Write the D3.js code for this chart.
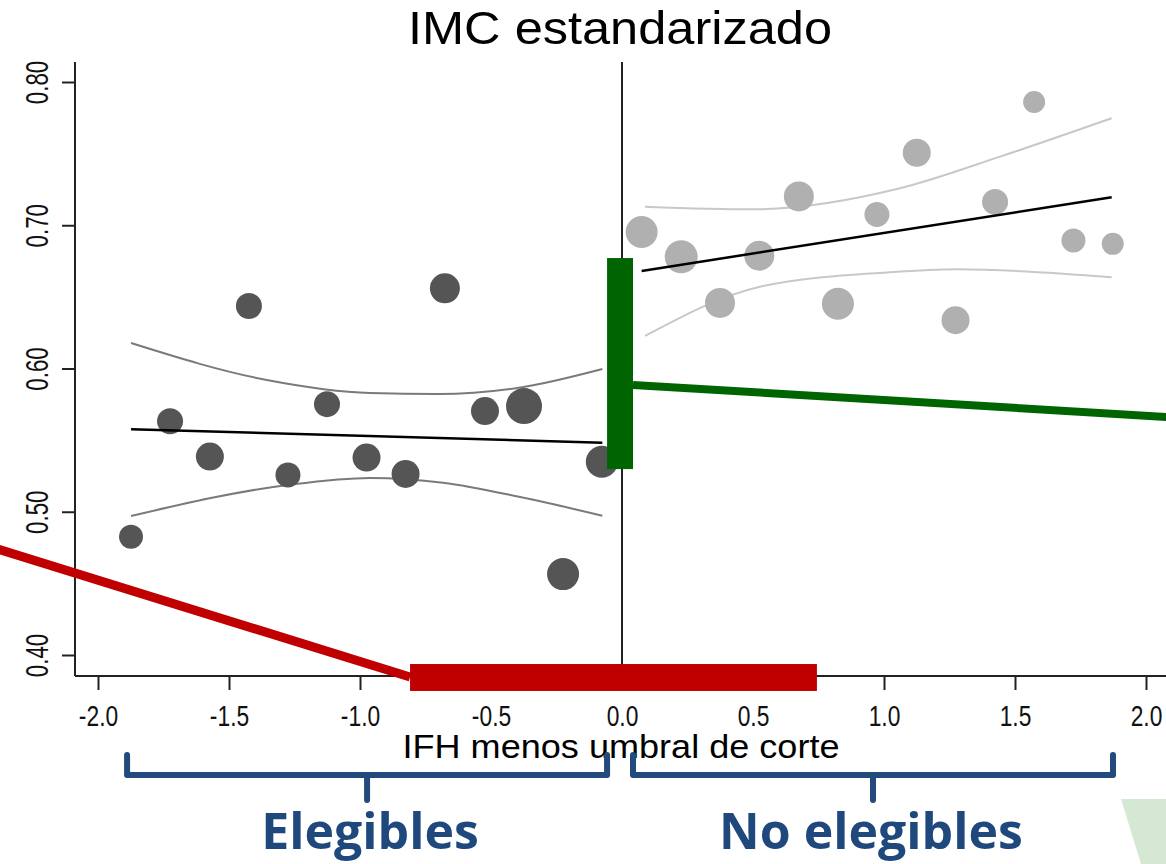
<!DOCTYPE html>
<html>
<head>
<meta charset="utf-8">
<script src="https://cdn.jsdelivr.net/npm/d3@7"></script>
<style>
  body { margin: 0; background: #fff; }
  svg { display: block; font-family: 'Liberation Sans', Arial, sans-serif; }
</style>
</head>
<body>
<div id="chart"></div>
<script>
// left of cutoff (eligible) bins
const leftX = [-1.874, -1.725, -1.573, -1.424, -1.275, -1.126, -0.975, -0.826, -0.676, -0.523, -0.374, -0.225, -0.077]
const leftY = [0.4826, 0.5632, 0.5385, 0.6436, 0.5257, 0.5751, 0.5378, 0.5264, 0.6560, 0.5703, 0.5738, 0.4565, 0.5349]
const leftR = [12, 13, 14, 13, 12.5, 13, 14, 14, 15, 14, 18, 16, 16]

// right of cutoff (not eligible) bins
const rightX = [0.075, 0.226, 0.374, 0.524, 0.675, 0.824, 0.973, 1.125, 1.273, 1.424, 1.573, 1.723, 1.873]
const rightY = [0.6953, 0.6780, 0.6458, 0.6787, 0.7201, 0.6452, 0.7075, 0.7506, 0.6337, 0.7163, 0.7860, 0.6893, 0.6870]
const rightR = [16, 16.5, 15, 15, 15, 16, 12.5, 14, 14, 13, 11, 12, 11]

// fitted lines and confidence bands
const leftFit = [[-1.874, 0.5576], [-0.075, 0.5482]]
const leftUpper = [[-1.874, 0.6178], [-1.356, 0.5920], [-0.962, 0.5829], [-0.70, 0.5822], [-0.40, 0.5864], [-0.075, 0.5997]]
const leftLower = [[-1.874, 0.4970], [-1.275, 0.5187], [-0.962, 0.5236], [-0.683, 0.5203], [-0.389, 0.5103], [-0.075, 0.4972]]
const rightFit = [[0.075, 0.6681], [1.869, 0.7195]]
const rightUpper = [[0.088, 0.7130], [0.50, 0.7111], [1.061, 0.7258], [1.443, 0.7479], [1.869, 0.7747]]
const rightLower = [[0.088, 0.6227], [0.527, 0.6571], [1.023, 0.6672], [1.277, 0.6693], [1.869, 0.6637]]

const xTicks = [-2.0, -1.5, -1.0, -0.5, 0.0, 0.5, 1.0, 1.5, 2.0]
const yTicks = [0.40, 0.50, 0.60, 0.70, 0.80]

// slide annotations (data units)
const greenBar = { x0: -0.057, x1: 0.042, y0: 0.5298, y1: 0.6771 }
const greenLine = [[0.042, 0.5885], [2.08, 0.5661]]
const redBar = { x0: -0.809, x1: 0.744, y0: 0.3749, y1: 0.3937 }
const redLine = [[-2.40, 0.4750], [-0.809, 0.3846]]
const groups = [
  { label: 'Elegibles', x0: -1.889, x1: -0.057 },
  { label: 'No elegibles', x0: 0.042, x1: 1.874 },
]

const WIDTH = 1166
const HEIGHT = 864
const AXIS_LEFT = 75
const AXIS_BOTTOM = 676
const PLOT_TOP = 62

const svg = d3.select('#chart').append('svg').attr('width', WIDTH).attr('height', HEIGHT)

const x = d3.scaleLinear().domain([-2, 2]).range([98, 1146])
const y = d3.scaleLinear().domain([0.4, 0.8]).range([655, 82])

const line = d3.line().x(d => x(d[0])).y(d => y(d[1]))
const curve = d3.line().x(d => x(d[0])).y(d => y(d[1])).curve(d3.curveMonotoneX)

// title
svg.append('text')
  .attr('x', 620).attr('y', 44)
  .attr('text-anchor', 'middle')
  .attr('textLength', 424)
  .attr('lengthAdjust', 'spacingAndGlyphs')
  .style('font-size', '46px')
  .text('IMC estandarizado')

// axes
const yAxis = svg.append('g')
  .attr('transform', `translate(${AXIS_LEFT},0)`)
  .call(d3.axisLeft(y).tickValues(yTicks).tickSize(13).tickFormat(d => d.toFixed(2)))
yAxis.select('.domain').remove()
yAxis.selectAll('line').attr('stroke', '#222').attr('stroke-width', 2)
yAxis.selectAll('text')
  .attr('transform', 'rotate(-90) scale(0.72,1)')
  .attr('x', 0).attr('y', -27).attr('dy', 0)
  .attr('text-anchor', 'middle')
  .attr('fill', '#111')
  .style('font-size', '31px')

const xAxis = svg.append('g')
  .attr('transform', `translate(0,${AXIS_BOTTOM})`)
  .call(d3.axisBottom(x).tickValues(xTicks).tickSize(14).tickPadding(15).tickFormat(d => d.toFixed(1)))
xAxis.select('.domain').remove()
xAxis.selectAll('line').attr('stroke', '#222').attr('stroke-width', 2)
xAxis.selectAll('text')
  .attr('transform', 'scale(0.76,1)')
  .attr('fill', '#111')
  .style('font-size', '30px')

svg.append('line')
  .attr('x1', AXIS_LEFT).attr('x2', AXIS_LEFT)
  .attr('y1', PLOT_TOP).attr('y2', AXIS_BOTTOM)
  .attr('stroke', '#222').attr('stroke-width', 2)
svg.append('line')
  .attr('x1', AXIS_LEFT).attr('x2', WIDTH)
  .attr('y1', AXIS_BOTTOM).attr('y2', AXIS_BOTTOM)
  .attr('stroke', '#222').attr('stroke-width', 2)

// cutoff line
svg.append('line')
  .attr('x1', x(0)).attr('x2', x(0))
  .attr('y1', PLOT_TOP).attr('y2', AXIS_BOTTOM)
  .attr('stroke', '#222').attr('stroke-width', 2)

svg.append('text')
  .attr('x', 621).attr('y', 758)
  .attr('text-anchor', 'middle')
  .attr('textLength', 437)
  .attr('lengthAdjust', 'spacingAndGlyphs')
  .style('font-size', '33px')
  .text('IFH menos umbral de corte')

// confidence bands
const bands = [
  { d: leftUpper, c: '#7a7a7a' },
  { d: leftLower, c: '#7a7a7a' },
  { d: rightUpper, c: '#c8c8c8' },
  { d: rightLower, c: '#c8c8c8' },
]
svg.selectAll('path.band')
  .data(bands)
  .join('path')
  .attr('class', 'band')
  .attr('d', b => curve(b.d))
  .attr('fill', 'none')
  .attr('stroke', b => b.c)
  .attr('stroke-width', 2)

// bins
const leftPts = leftX.map((v, i) => ({ x: v, y: leftY[i], r: leftR[i] }))
const rightPts = rightX.map((v, i) => ({ x: v, y: rightY[i], r: rightR[i] }))

svg.selectAll('circle.left')
  .data(leftPts)
  .join('circle')
  .attr('class', 'left')
  .attr('cx', d => x(d.x)).attr('cy', d => y(d.y)).attr('r', d => d.r)
  .attr('fill', '#555555')

svg.selectAll('circle.right')
  .data(rightPts)
  .join('circle')
  .attr('class', 'right')
  .attr('cx', d => x(d.x)).attr('cy', d => y(d.y)).attr('r', d => d.r)
  .attr('fill', '#b0b0b0')

// fits
svg.selectAll('path.fit')
  .data([leftFit, rightFit])
  .join('path')
  .attr('class', 'fit')
  .attr('d', d => line(d))
  .attr('fill', 'none')
  .attr('stroke', '#000')
  .attr('stroke-width', 2.5)

// green jump annotation
svg.append('path')
  .attr('d', line(greenLine))
  .attr('stroke', '#006400').attr('stroke-width', 8).attr('fill', 'none')
svg.append('rect')
  .attr('x', x(greenBar.x0)).attr('width', x(greenBar.x1) - x(greenBar.x0))
  .attr('y', y(greenBar.y1)).attr('height', y(greenBar.y0) - y(greenBar.y1))
  .attr('fill', '#006400')

// red bandwidth annotation
svg.append('path')
  .attr('d', line(redLine))
  .attr('stroke', '#c00000').attr('stroke-width', 9).attr('fill', 'none')
svg.append('rect')
  .attr('x', x(redBar.x0)).attr('width', x(redBar.x1) - x(redBar.x0))
  .attr('y', y(redBar.y1)).attr('height', y(redBar.y0) - y(redBar.y1))
  .attr('fill', '#c00000')

// brackets
const bracket = svg.selectAll('g.bracket')
  .data(groups)
  .join('g')
  .attr('class', 'bracket')

bracket.append('path')
  .attr('d', g => {
    const a = x(g.x0), b = x(g.x1), m = (a + b) / 2
    return `M${a},755 V775 H${b} V755 M${m},775 V800`
  })
  .attr('fill', 'none')
  .attr('stroke', '#234a7c')
  .attr('stroke-width', 6)
  .attr('stroke-linecap', 'round')
  .attr('stroke-linejoin', 'round')

bracket.append('text')
  .attr('x', (g, i) => (x(g.x0) + x(g.x1)) / 2 + (i === 0 ? 3 : -2))
  .attr('y', 849)
  .attr('text-anchor', 'middle')
  .attr('fill', '#1f497d')
  .style('font-family', "'Open Sans', 'Noto Sans', sans-serif")
  .style('font-weight', 'bold')
  .style('font-size', '50px')
  .text(g => g.label)

// slide decoration, bottom right
svg.append('polygon')
  .attr('points', '1121,799 1166,799 1166,864 1141,864')
  .attr('fill', '#d5e8d4')
</script>
</body>
</html>
